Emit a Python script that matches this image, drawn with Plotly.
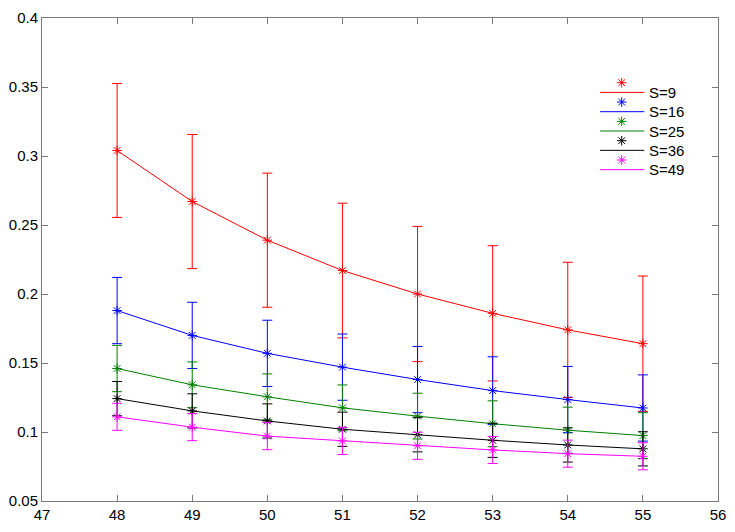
import plotly.graph_objects as go

x_vals = [48, 49, 50, 51, 52, 53, 54, 55]
series_names = ["S=9", "S=16", "S=25", "S=36", "S=49"]
colors = ["#ff0000", "#0000ff", "#008000", "#000000", "#ff00ff"]

s9 = [0.304, 0.267, 0.239, 0.217, 0.200, 0.186, 0.174, 0.164]
s16 = [0.188, 0.170, 0.157, 0.147, 0.138, 0.130, 0.1235, 0.1174]
s25 = [0.146, 0.1342, 0.1255, 0.1175, 0.1115, 0.106, 0.1013, 0.0974]
s36 = [0.1242, 0.1153, 0.108, 0.102, 0.098, 0.094, 0.0906, 0.0878]
s49 = [0.111, 0.1035, 0.097, 0.0935, 0.090, 0.087, 0.0843, 0.0824]

e9 = [0.0485, 0.0486, 0.0486, 0.0488, 0.049, 0.049, 0.049, 0.049]
e16 = [0.024, 0.024, 0.024, 0.024, 0.024, 0.0245, 0.024, 0.024]
e25 = [0.0168, 0.0166, 0.0166, 0.0166, 0.0166, 0.0166, 0.0167, 0.0166]
e36 = [0.0124, 0.0124, 0.0124, 0.0124, 0.0124, 0.0124, 0.0124, 0.0124]
e49 = [0.0098, 0.0098, 0.0098, 0.0098, 0.0098, 0.0098, 0.0098, 0.0098]

means = [s9, s16, s25, s36, s49]
errs = [e9, e16, e25, e36, e49]

x_ticks = list(range(47, 57))
y_ticks = [0.05, 0.1, 0.15, 0.2, 0.25, 0.3, 0.35, 0.4]

W, H = 735, 532
L, R, T, B = 35, 12, 9, 23
pw, ph = W - L - R, H - T - B

fig = go.Figure()
for name, col, m, e in zip(series_names, colors, means, errs):
    fig.add_trace(go.Scatter(
        x=x_vals, y=m, name=name, mode="lines+markers",
        line=dict(color=col, width=1),
        marker=dict(symbol="asterisk-open", size=8, color=col, line=dict(color=col, width=1)),
        error_y=dict(type="data", array=e, visible=True, color=col, thickness=1, width=5),
        showlegend=False,
    ))

# custom legend (MATLAB-style: marker above line) on an overlay pixel axis
def px_x(px):
    return (px - L) / pw

def px_y(py):
    return (H - B - py) / ph

for i, (name, col) in enumerate(zip(series_names, colors)):
    ly = 86 + 20 * i
    fig.add_trace(go.Scatter(
        x=[px_x(603), px_x(648)], y=[px_y(ly), px_y(ly)], mode="lines",
        line=dict(color=col, width=1), xaxis="x2", yaxis="y2",
        showlegend=False, hoverinfo="skip"))
    fig.add_trace(go.Scatter(
        x=[px_x(625)], y=[px_y(ly - 10)], mode="markers",
        marker=dict(symbol="asterisk-open", size=8, color=col, line=dict(color=col, width=1)),
        xaxis="x2", yaxis="y2", showlegend=False, hoverinfo="skip"))
    fig.add_annotation(x=px_x(651), y=px_y(ly), xref="x2", yref="y2", text=name,
                       showarrow=False, xanchor="left", yanchor="middle",
                       font=dict(size=15, color="#000000"))

axis_font = dict(family="Liberation Sans, Arial, sans-serif", size=15, color="#000000")

fig.update_layout(
    width=W, height=H,
    margin=dict(l=L, r=R, t=T, b=B, pad=0),
    paper_bgcolor="#ffffff", plot_bgcolor="#ffffff",
    font=dict(family="Liberation Sans, Arial, sans-serif", size=15, color="#000000"),
    showlegend=False,
    xaxis=dict(range=[47, 56], tickvals=x_ticks, ticktext=[str(v) for v in x_ticks],
               showgrid=False, zeroline=False, showline=True, linecolor="#7a7a7a", linewidth=1,
               mirror="ticks", ticks="inside", ticklen=6, tickcolor="#7a7a7a", tickfont=axis_font),
    yaxis=dict(range=[0.05, 0.4], tickvals=y_ticks, ticktext=[f"{v:g}" for v in y_ticks],
               showgrid=False, zeroline=False, showline=True, linecolor="#7a7a7a", linewidth=1,
               mirror="ticks", ticks="inside", ticklen=6, tickcolor="#7a7a7a", tickfont=axis_font),
    xaxis2=dict(range=[0, 1], overlaying="x", visible=False, fixedrange=True),
    yaxis2=dict(range=[0, 1], overlaying="y", visible=False, fixedrange=True),
)

fig.write_html("out.html", config={"displayModeBar": False},
               post_script="document.body.style.margin='0';document.body.style.overflow='hidden';")
